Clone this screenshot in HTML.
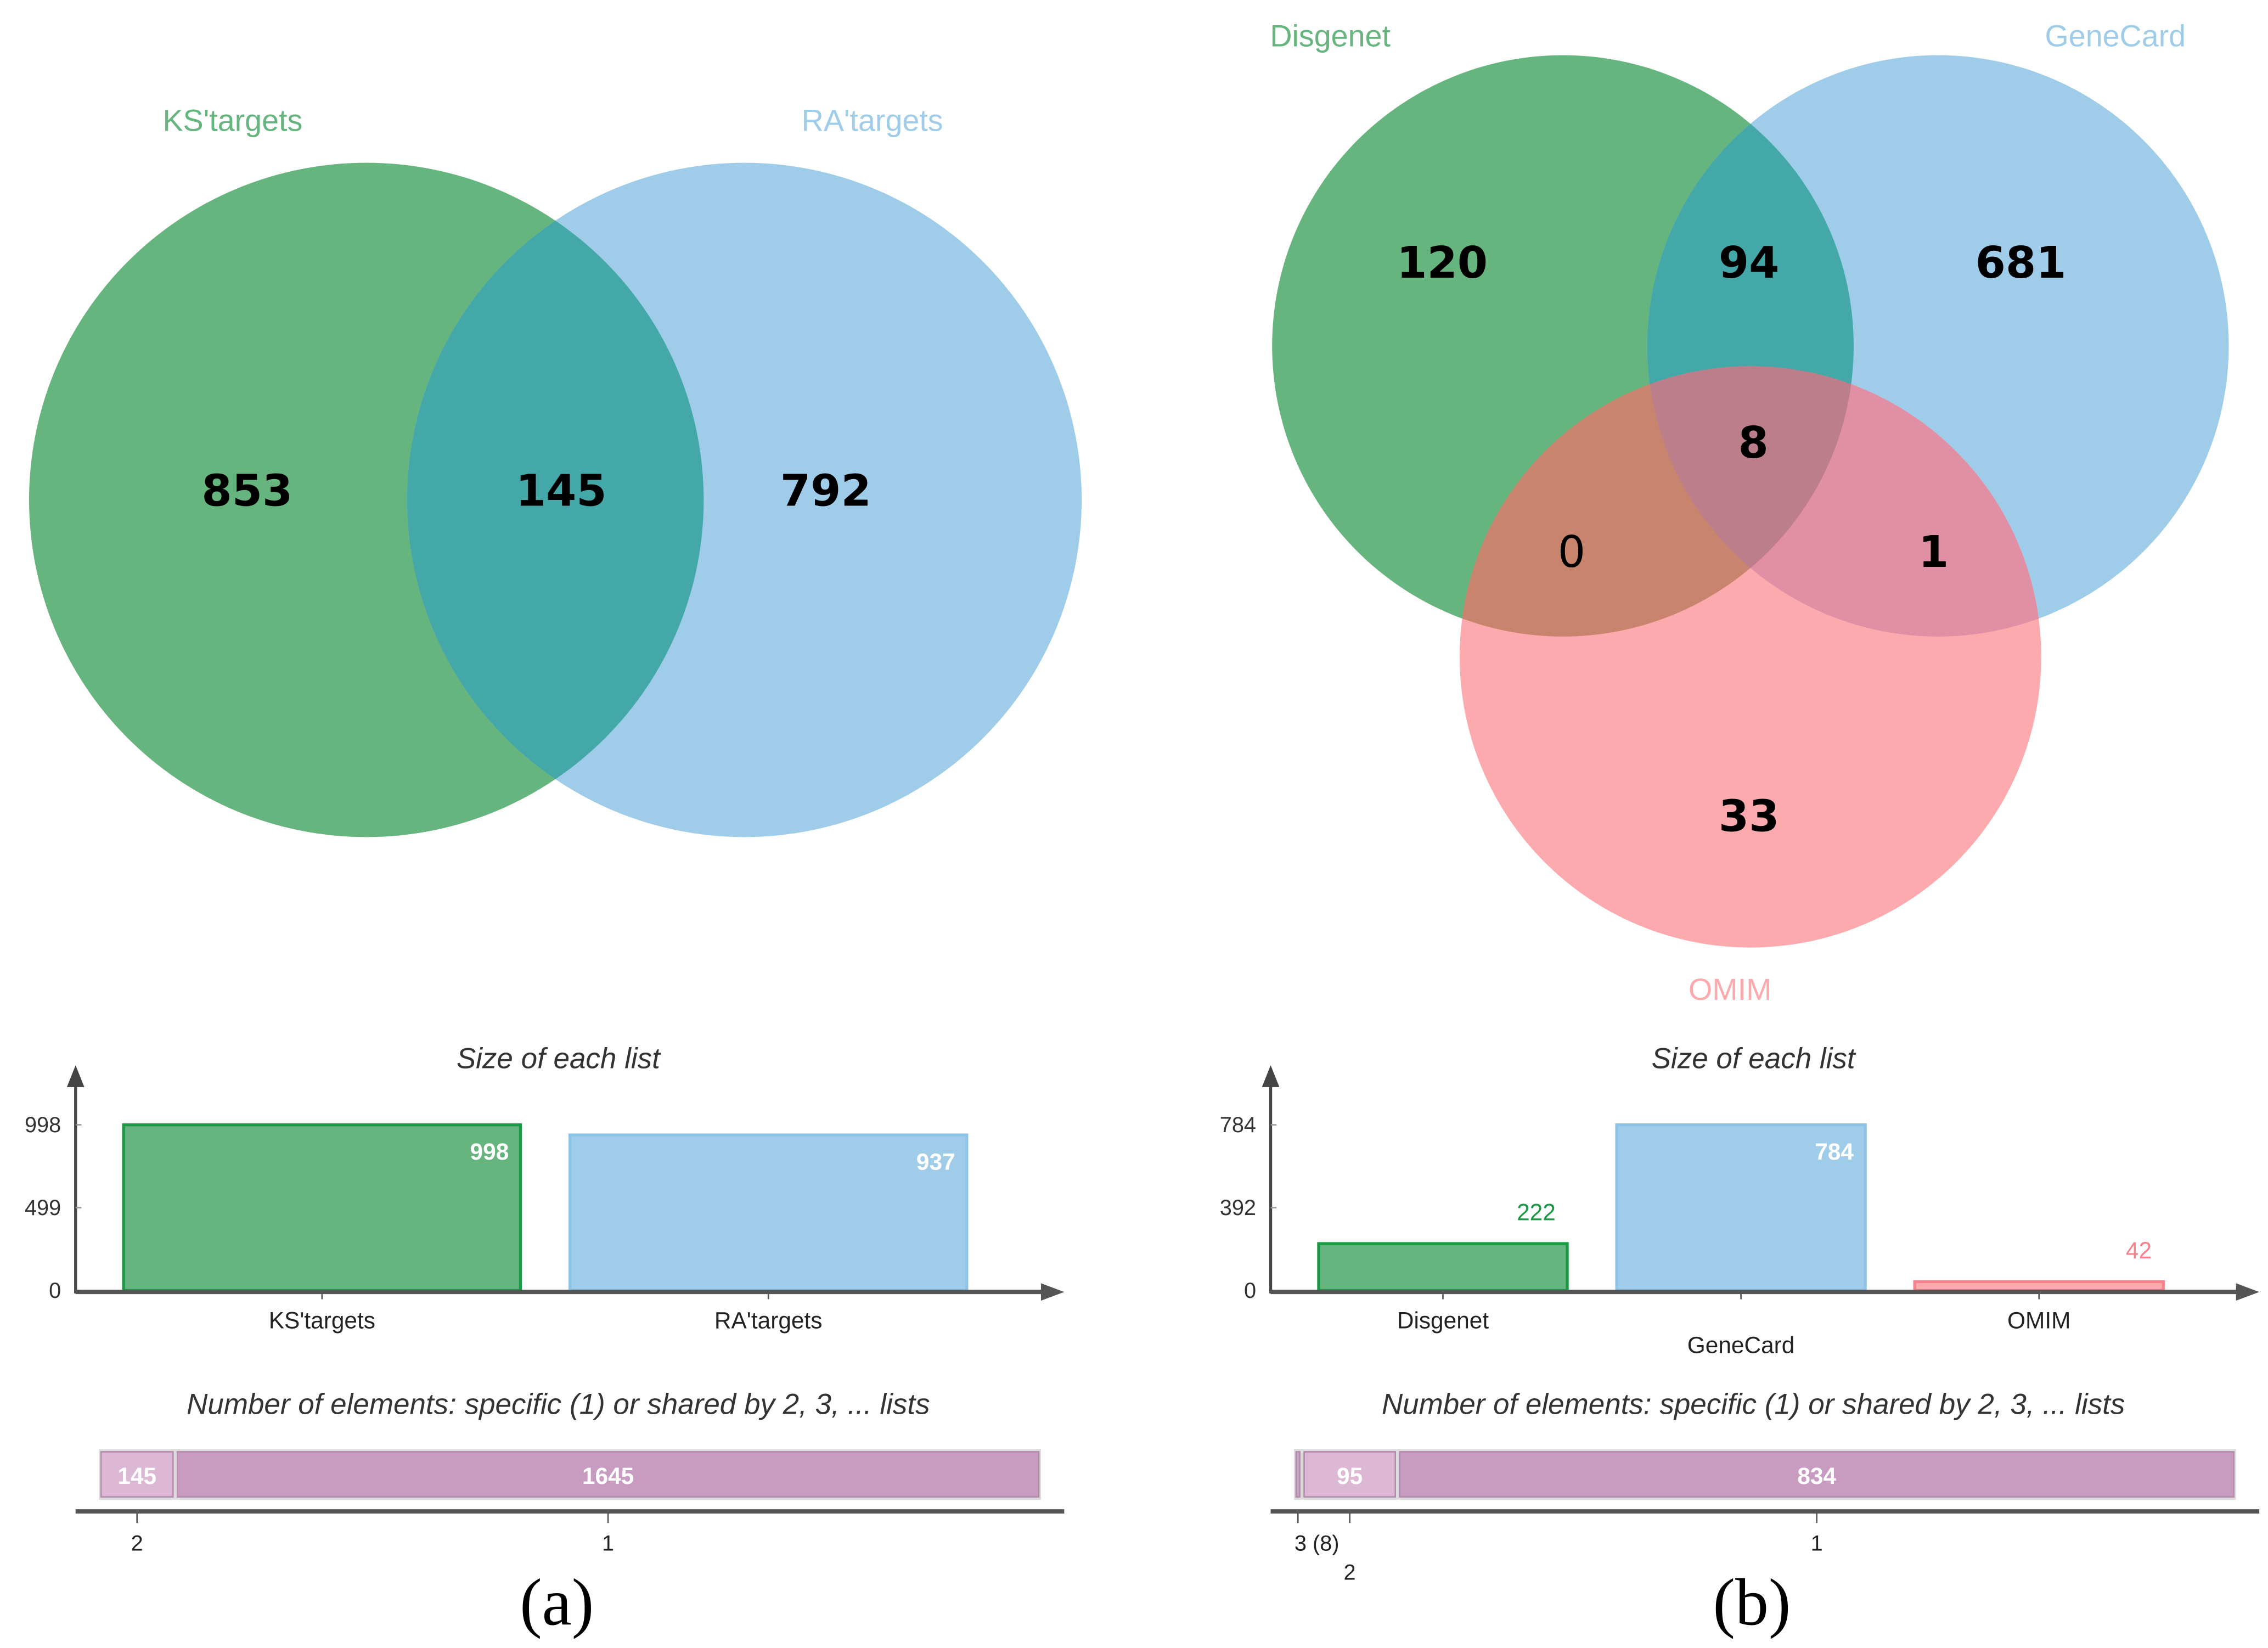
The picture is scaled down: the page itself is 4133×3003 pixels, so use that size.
<!DOCTYPE html>
<html><head><meta charset="utf-8"><style>html,body{margin:0;padding:0;background:#fff}svg{display:block}</style></head>
<body>
<svg id="s" width="4133" height="3003" viewBox="0 0 1560 1134" preserveAspectRatio="none" xmlns="http://www.w3.org/2000/svg" font-family="Liberation Sans, sans-serif">
<defs>
<clipPath id="cA1"><circle cx="252" cy="344" r="232"/></clipPath>
<clipPath id="cG"><circle cx="1075" cy="238" r="200"/></clipPath>
<clipPath id="cB"><circle cx="1333" cy="238" r="200"/></clipPath>
<clipPath id="cR"><circle cx="1204" cy="452" r="200"/></clipPath>
</defs>
<g>
<circle cx="252" cy="344" r="232" fill="#66b47e"/>
<circle cx="512" cy="344" r="232" fill="#9ecce9"/>
<circle cx="512" cy="344" r="232" fill="#45a8a8" clip-path="url(#cA1)"/>
<text x="160" y="90" font-size="21" fill="#66b47e" text-anchor="middle">KS'targets</text>
<text x="600" y="90" font-size="21" fill="#9ecce9" text-anchor="middle">RA'targets</text>
<g font-size="30" font-weight="bold" text-anchor="middle" font-family="DejaVu Sans, sans-serif">
<text x="170" y="348">853</text>
<text x="386" y="348">145</text>
<text x="568" y="348">792</text>
</g></g>
<g>
<circle cx="1075" cy="238" r="200" fill="#66b47e"/>
<circle cx="1333" cy="238" r="200" fill="#9ecce9"/>
<circle cx="1204" cy="452" r="200" fill="#fdaaae"/>
<circle cx="1333" cy="238" r="200" fill="#45a8a8" clip-path="url(#cG)"/>
<g clip-path="url(#cR)"><circle cx="1075" cy="238" r="200" fill="#c8846c"/>
<circle cx="1333" cy="238" r="200" fill="#e08fa4"/>
<g clip-path="url(#cG)"><circle cx="1333" cy="238" r="200" fill="#bb7e8a"/></g></g>
<text x="915" y="32" font-size="21" fill="#66b47e" text-anchor="middle">Disgenet</text>
<text x="1455" y="32" font-size="21" fill="#9ecce9" text-anchor="middle">GeneCard</text>
<text x="1190" y="688" font-size="21" fill="#fdaaae" text-anchor="middle">OMIM</text>
<g font-size="30" font-weight="bold" text-anchor="middle" font-family="DejaVu Sans, sans-serif">
<text x="992" y="191">120</text>
<text x="1203" y="191">94</text>
<text x="1390" y="191">681</text>
<text x="1206" y="315">8</text>
<text x="1081" y="390" font-weight="normal">0</text>
<text x="1330" y="390">1</text>
<text x="1203" y="572">33</text>
</g></g>
<text x="383" y="1118" font-size="46" font-family="Liberation Serif, serif" text-anchor="middle">(a)</text>
<text x="1205" y="1118" font-size="46" font-family="Liberation Serif, serif" text-anchor="middle">(b)</text>
</svg>
<script>
const aCats=["KS'targets","RA'targets"];
const aVals=[998,937];
const aTicks=[0,499,998];
const bCats=["Disgenet","GeneCard","OMIM"];
const bVals=[222,784,42];
const bTicks=[0,392,784];
const aShare=[145,1645];
const aShareLbl=["2","1"];
const bShare=[8,95,834];
const bShareLbl=["3 (8)","2","1"];
const NS="http://www.w3.org/2000/svg",S=document.getElementById('s');
function mk(t,a,txt){const e=document.createElementNS(NS,t);for(const k in a)e.setAttribute(k,a[k]);if(txt!==undefined)e.textContent=txt;S.appendChild(e);return e;}
const fills=["#66b47e","#9ecce9","#fdaaae"],strokes=["#1a9a45","#8cc3e6","#f7818a"];
function barChart(cats,vals,ticks,x0,xEnd,first,width,gap,stagger,titleX){
 const y0=888,yTop=774,max=ticks[2];
 const ys=v=>y0-(v/max)*(y0-yTop);
 let t=mk('text',{x:titleX,y:735,'font-size':20,'font-style':'italic','text-anchor':'middle',fill:'#333'},'Size of each list');
 
 let ax=mk('path',{d:`M${x0} ${y0+2}V742`,stroke:'#444','stroke-width':2,fill:'none'});
 
 mk('path',{d:`M${x0-6} 748L${x0} 733L${x0+6} 748Z`,fill:'#444'});
 ticks.forEach(v=>{const l=mk('text',{x:x0-10,y:ys(v)+5,'font-size':15,'text-anchor':'end',fill:'#333'},String(v));
  
  mk('line',{x1:x0,x2:x0+4,y1:ys(v),y2:ys(v),stroke:'#999'});});
 cats.forEach((c,i)=>{const bx=first+i*(width+gap),top=ys(vals[i]);
  const r=mk('rect',{x:bx,y:top,width:width,height:y0-top,fill:fills[i],stroke:strokes[i],'stroke-width':2});
  
  const inside=(y0-top)>60;
  const v=mk('text',{x:bx+width-8,y:inside?top+24:top-16,'font-size':16,'text-anchor':'end',fill:inside?'#fff':strokes[i],'font-weight':inside?'bold':'normal'},String(vals[i]));
  
  mk('line',{x1:bx+width/2,x2:bx+width/2,y1:y0,y2:y0+6,stroke:'#555'});
  const l=mk('text',{x:bx+width/2,y:stagger&&i%2==1?931:914,'font-size':16,'text-anchor':'middle',fill:'#222'},c);
  });
 let xa=mk('line',{x1:x0,x2:xEnd-10,y1:y0+1,y2:y0+1,stroke:'#555','stroke-width':3});
 
 mk('path',{d:`M${xEnd-16} ${y0-5}L${xEnd} ${y0+1}L${xEnd-16} ${y0+7}Z`,fill:'#555'});
}
barChart(aCats,aVals,aTicks,52,732,85,273,34,false,384);
barChart(bCats,bVals,bTicks,874,1554,907,171,34,true,1206);
function shareBar(vals,lbls,x0,x1,axL,axR,titleX){
 const tot=vals.reduce((a,b)=>a+b,0),w=x1-x0,cols=vals.length==3?["#c8a4c4","#dcb8d4","#c89bc0"]:["#dcb8d4","#c89bc0"];
 let t=mk('text',{x:titleX,y:973,'font-size':20,'font-style':'italic','text-anchor':'middle',fill:'#333'},'Number of elements: specific (1) or shared by 2, 3, ... lists');
 
 mk('rect',{x:x0,y:997,width:w,height:35,fill:'#ddd'});
 let x=x0;
 vals.forEach((v,i)=>{const sw=v/tot*w;
  const r=mk('rect',{x:x+1.5,y:999,width:Math.max(sw-3,1),height:31,fill:cols[i],stroke:'#b58aae','stroke-width':1});
  
  if(sw>30){const l=mk('text',{x:x+sw/2,y:1021,'font-size':16,'font-weight':'bold','text-anchor':'middle',fill:'#fff'},String(v));
   }
  const cx=x+sw/2;mk('line',{x1:cx,x2:cx,y1:1040,y2:1048,stroke:'#555'});
  const two=vals.length==3&&i==1;
  const l=mk('text',{x:vals.length==3&&i==0?cx+13:cx,y:two?1087:1067,'font-size':15,'text-anchor':'middle',fill:'#222'},lbls[i]);
  
  x+=sw;});
 let a=mk('line',{x1:axL,x2:axR,y1:1040,y2:1040,stroke:'#555','stroke-width':3});
 
}
shareBar(aShare,aShareLbl,68,716,52,732,384);
shareBar(bShare,bShareLbl,890,1538,874,1554,1206);
</script>
</body></html>
